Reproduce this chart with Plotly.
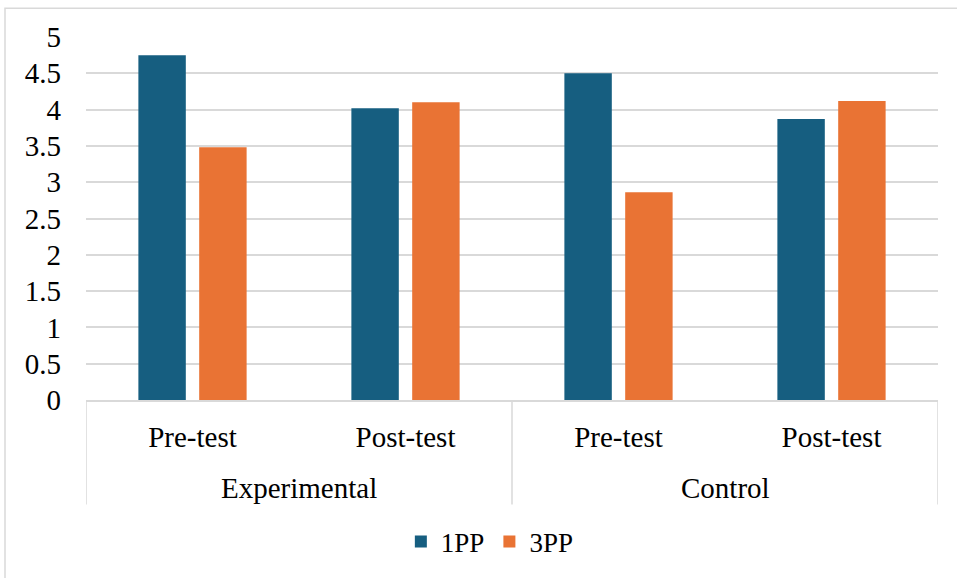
import plotly.graph_objects as go

# Grouping levels for the x axis
groups = ["Experimental", "Control"]
phases = ["Pre-test", "Post-test", "Pre-test", "Post-test"]
group_of_phase = ["Experimental", "Experimental", "Control", "Control"]

# Mean scores per perspective
series_names = ["1PP", "3PP"]
values_1pp = [4.75, 4.02, 4.50, 3.87]
values_3pp = [3.48, 4.10, 2.86, 4.12]

colors = {"1PP": "#165E80", "3PP": "#E97334"}
y_ticks = [0, 0.5, 1, 1.5, 2, 2.5, 3, 3.5, 4, 4.5, 5]

FONT = "'Times New Roman', 'Liberation Serif', Tinos, serif"
GRID = "#D9D9D9"

# one category slot per (group, phase) pair
slots = list(range(len(phases)))

fig = go.Figure()
for name, vals in zip(series_names, [values_1pp, values_3pp]):
    fig.add_trace(go.Bar(
        x=slots,
        y=vals,
        name=name,
        marker=dict(color=colors[name], line=dict(width=0)),
        customdata=[f"{g} {p}" for g, p in zip(group_of_phase, phases)],
        hovertemplate="%{customdata}<br>" + name + ": %{y}<extra></extra>",
    ))

# group label row and the box dividers below the axis
label_depth = 105 / 365  # divider length as a fraction of the plot height
shapes = []
n_per_group = len(phases) // len(groups)
for k in range(len(groups) + 1):
    xb = k * n_per_group - 0.5
    shapes.append(dict(type="line", xref="x", yref="paper",
                       x0=xb, x1=xb, y0=0, y1=-label_depth,
                       line=dict(color=GRID, width=1.5)))
# chart frame
shapes.append(dict(type="rect", xref="paper", yref="paper",
                   x0=(5 - 86) / 852, x1=(970 - 86) / 852,
                   y0=(365 - (590 - 37)) / 365, y1=(365 - (8 - 37)) / 365,
                   line=dict(color=GRID, width=1.5), layer="below"))

annotations = []
for k, g in enumerate(groups):
    annotations.append(dict(
        x=k * n_per_group + (n_per_group - 1) / 2, xref="x",
        y=-(490 - 402) / 365, yref="paper",
        yanchor="middle", xanchor="center",
        text=g, showarrow=False,
        font=dict(family=FONT, size=29, color="#000000"),
    ))

fig.update_layout(
    width=957,
    height=578,
    margin=dict(l=86, r=19, t=37, b=176),
    paper_bgcolor="white",
    plot_bgcolor="white",
    barmode="group",
    bargap=0.429,
    bargroupgap=0.22,
    font=dict(family=FONT, size=29, color="#000000"),
    showlegend=True,
    legend=dict(
        orientation="h",
        x=0.474,
        xanchor="center",
        y=-0.391,
        yanchor="middle",
        font=dict(family=FONT, size=27, color="#000000"),
        itemwidth=30,
        bgcolor="rgba(0,0,0,0)",
    ),
    xaxis=dict(
        range=[-0.5, len(phases) - 0.5],
        tickvals=slots,
        ticktext=phases,
        showline=True,
        linecolor=GRID,
        linewidth=1.5,
        showgrid=False,
        zeroline=False,
        ticks="outside",
        ticklen=10,
        tickcolor="rgba(0,0,0,0)",
        tickfont=dict(family=FONT, size=29, color="#000000"),
    ),
    yaxis=dict(
        range=[0, 5],
        tickvals=y_ticks,
        ticktext=[f"{v:g}" for v in y_ticks],
        showgrid=True,
        gridcolor=GRID,
        gridwidth=1.5,
        zeroline=False,
        showline=False,
        ticks="",
        ticklabelstandoff=24,
        tickfont=dict(family=FONT, size=29, color="#000000"),
    ),
    shapes=shapes,
    annotations=annotations,
)

fig.write_html("out.html")
